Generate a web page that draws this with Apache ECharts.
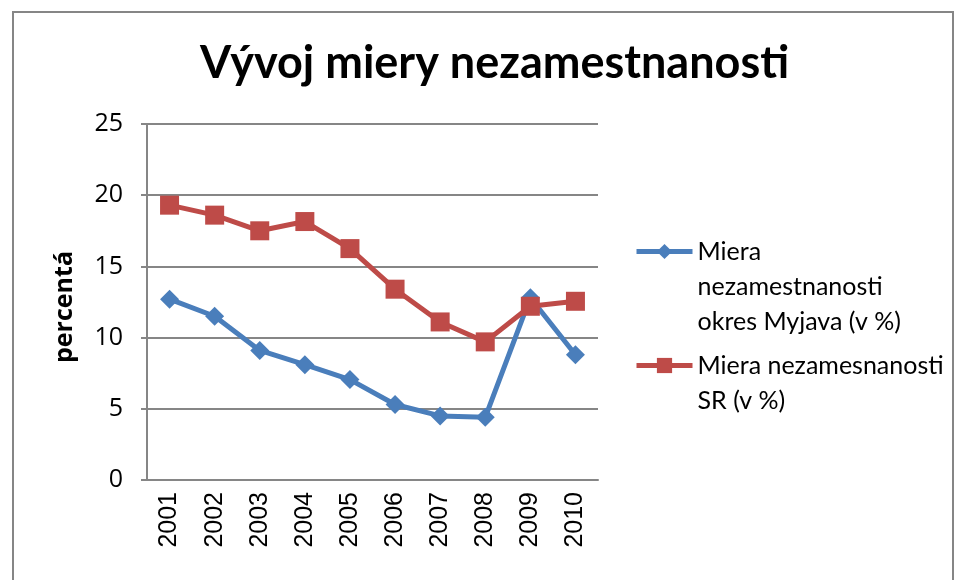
<!DOCTYPE html>
<html>
<head>
<meta charset="utf-8">
<script src="https://cdn.jsdelivr.net/npm/echarts@6/dist/echarts.min.js"></script>
<style>
  html, body { margin: 0; padding: 0; background: #fff; }
  #chart { width: 956px; height: 580px; }
</style>
</head>
<body>
<div id="chart"></div>
<script>
// data
var years = ['2001', '2002', '2003', '2004', '2005', '2006', '2007', '2008', '2009', '2010'];
var myjava = [12.7, 11.5, 9.1, 8.1, 7.05, 5.3, 4.5, 4.4, 12.8, 8.8];
var slovensko = [19.3, 18.6, 17.5, 18.15, 16.25, 13.4, 11.1, 9.7, 12.2, 12.55];
var yTicks = [0, 5, 10, 15, 20, 25];

var nameMyjava = 'Miera\nnezamestnanosti\nokres Myjava (v %)';
var nameSR = 'Miera nezamesnanosti\nSR (v %)';

var chart = echarts.init(document.getElementById('chart'));

var legendText = {
  fontFamily: 'Lato',
  fontSize: 25,
  color: '#000',
  lineHeight: 35
};

// legend text is centred on its icon, so pad with empty lines on top
// to put the icon beside the first line
function padTop(name) {
  var n = name.split('\n').length - 1;
  var pre = '';
  for (var i = 0; i < n; i++) pre += '\n';
  return pre + name;
}

var option = {
  backgroundColor: '#fff',
  animation: false,
  title: {
    text: 'Vývoj miery nezamestnanosti',
    left: 195,
    top: 36,
    textStyle: {
      fontFamily: 'Lato',
      fontWeight: 'bold',
      fontSize: 45,
      color: '#000'
    }
  },
  legend: [{
    data: [nameMyjava],
    left: 629,
    top: 159,
    itemWidth: 56,
    itemHeight: 19,
    itemGap: 0,
    formatter: padTop,
    lineStyle: { width: 5 },
    textStyle: legendText
  }, {
    data: [nameSR],
    left: 629,
    top: 308,
    itemWidth: 56,
    itemHeight: 19,
    itemGap: 0,
    formatter: padTop,
    lineStyle: { width: 5 },
    textStyle: legendText
  }],
  grid: {
    left: 147,
    right: 358,
    top: 124,
    bottom: 100
  },
  xAxis: {
    type: 'category',
    data: years,
    boundaryGap: true,
    axisLine: { lineStyle: { color: '#868686', width: 2 } },
    axisTick: { show: false },
    axisLabel: {
      rotate: 90,
      margin: 12,
      fontFamily: 'Liberation Sans',
      fontSize: 25,
      color: '#000'
    }
  },
  yAxis: {
    type: 'value',
    min: yTicks[0],
    max: yTicks[yTicks.length - 1],
    interval: 5,
    name: 'percentá',
    nameLocation: 'middle',
    nameGap: 70,
    nameRotate: 90,
    nameTextStyle: {
      fontFamily: 'Open Sans',
      fontWeight: 'bold',
      fontSize: 25,
      color: '#000',
      padding: [0, 10, 0, 0]
    },
    axisLine: { show: true, lineStyle: { color: '#868686', width: 2 } },
    axisTick: { show: true, length: 6, lineStyle: { color: '#868686', width: 2 } },
    splitLine: { lineStyle: { color: '#868686', width: 2 } },
    axisLabel: {
      margin: 24,
      fontFamily: 'Open Sans',
      fontSize: 25,
      color: '#000'
    }
  },
  series: [{
    name: nameMyjava,
    type: 'line',
    data: myjava,
    symbol: 'diamond',
    symbolSize: 19,
    color: '#4A7EBB',
    lineStyle: { width: 5, color: '#4A7EBB' },
    itemStyle: { color: '#4A7EBB' }
  }, {
    name: nameSR,
    type: 'line',
    data: slovensko,
    symbol: 'rect',
    symbolSize: 19,
    color: '#BE4B48',
    lineStyle: { width: 5, color: '#BE4B48' },
    itemStyle: { color: '#BE4B48' }
  }],
  graphic: [{
    type: 'rect',
    shape: { x: 13, y: 12, width: 940, height: 620 },
    style: { fill: 'none', stroke: '#868686', lineWidth: 2 },
    silent: true
  }]
};

chart.setOption(option);
</script>
</body>
</html>
